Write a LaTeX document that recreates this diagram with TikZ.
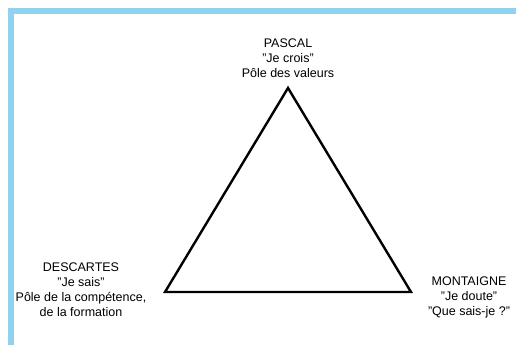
\documentclass[tikz,border=0pt]{standalone}
\usepackage{fontspec}
\setmainfont{Liberation Sans}
\definecolor{framebl}{RGB}{145,210,238}
\begin{document}
\begin{tikzpicture}[x=1pt,y=-1pt,
  lbl/.style={align=center,font=\fontsize{12.5}{15}\selectfont,inner sep=0pt,text=black}]
\useasboundingbox (0,0) rectangle (516,345);
\fill[white] (0,0) rectangle (516,345);
\fill[framebl] (8,8) rectangle (516,14);
\fill[framebl] (8,8) rectangle (14,345);
\coordinate (P) at (288,88);
\coordinate (D) at (165,292);
\coordinate (M) at (411,292);
\draw[line width=2.4pt,line join=miter] (P) -- (D) -- (M) -- cycle;
\node[lbl] (pascal) at (288,58) {PASCAL\\"Je crois"\\Pôle des valeurs};
\node[lbl] (descartes) at (81,290) {DESCARTES\\"Je sais"\\Pôle de la compétence,\\de la formation};
\node[lbl] (montaigne) at (469,297) {MONTAIGNE\\"Je doute"\\"Que sais-je ?"};
\end{tikzpicture}
\end{document}
